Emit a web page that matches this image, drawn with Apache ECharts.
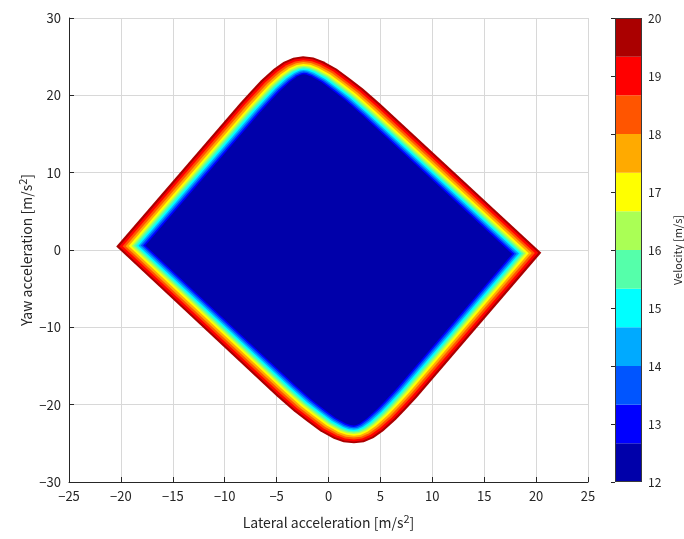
<!DOCTYPE html>
<html>
<head>
<meta charset="utf-8">
<script src="https://cdn.jsdelivr.net/npm/echarts@6/dist/echarts.min.js"></script>
<style>
  html, body { margin: 0; background: #fff; }
  #chart { width: 684px; height: 539px; }
</style>
</head>
<body>
<div id="chart"></div>
<script>
// outer edge of the filled area (the 20 m/s contour) [x, y]
const outline = [
  [-20.45, 0.45], [-8.5, 19.05], [-7.4, 20.65], [-6.5, 21.95], [-5.3, 23.4],
  [-4.35, 24.3], [-3.4, 24.85], [-2.45, 25.05], [-1.45, 24.9], [-0.5, 24.4],
  [0.8, 23.45], [2.1, 22.15], [3.35, 20.85], [5.0, 18.9],
  [20.5, -0.35], [8.5, -19.1], [7.4, -20.7], [6.5, -21.95], [5.3, -23.4],
  [4.35, -24.3], [3.4, -24.85], [2.45, -25.0], [1.45, -24.85], [0.5, -24.4],
  [-0.8, -23.45], [-2.1, -22.15], [-3.35, -20.85], [-5.0, -18.9]
];

// contour levels (m/s) and how far inside the outer edge each one lies (m/s^2)
const contourLevels = [20, 19.33, 18.67, 18, 17.33, 16.67, 16, 15.33, 14.67, 14, 13.33, 12.67];
const contourDepth = [0, 0.24, 0.5, 0.74, 0.98, 1.2, 1.38, 1.56, 1.74, 1.92, 2.1, 2.28];

// colour bar: band edges and jet(12) colours, lowest band first
const barEdges = [12, 12.67, 13.33, 14, 14.67, 15.33, 16, 16.67, 17.33, 18, 18.67, 19.33, 20];
const jetColors = ['#0000aa', '#0000ff', '#0055ff', '#00aaff', '#00ffff', '#55ffaa',
                   '#aaff55', '#ffff00', '#ffaa00', '#ff5500', '#ff0000', '#aa0000'];

const font = '"Noto Sans CJK JP", "Noto Sans", sans-serif';
const ink = '#262626';
const minus = v => String(v).replace('-', '\u2212');

// move every edge of the ring inwards by d (data units), corners where they meet
function insetRing(ring, d) {
  const n = ring.length;
  let area = 0;
  for (let i = 0; i < n; i++) {
    const a = ring[i], b = ring[(i + 1) % n];
    area += a[0] * b[1] - b[0] * a[1];
  }
  const s = area > 0 ? 1 : -1;
  const lines = [];
  for (let i = 0; i < n; i++) {
    const a = ring[i], b = ring[(i + 1) % n];
    let ux = b[0] - a[0], uy = b[1] - a[1];
    const len = Math.hypot(ux, uy);
    ux /= len; uy /= len;
    const nx = -uy * s, ny = ux * s;
    lines.push({ px: a[0] + nx * d, py: a[1] + ny * d, ux, uy, nx, ny });
  }
  const out = [];
  for (let i = 0; i < n; i++) {
    const l1 = lines[(i - 1 + n) % n], l2 = lines[i];
    const den = l1.ux * l2.uy - l1.uy * l2.ux;
    if (Math.abs(den) < 1e-9) {
      out.push([ring[i][0] + l2.nx * d, ring[i][1] + l2.ny * d]);
      continue;
    }
    const t = ((l2.px - l1.px) * l2.uy - (l2.py - l1.py) * l2.ux) / den;
    out.push([l1.px + l1.ux * t, l1.py + l1.uy * t]);
  }
  return out;
}

const nameRich = {
  t: { fontSize: 14, color: ink, fontFamily: font, lineHeight: 20 },
  s: { fontSize: 11, color: ink, fontFamily: font, verticalAlign: 'top', lineHeight: 20 }
};

const chart = echarts.init(document.getElementById('chart'));

const option = {
  animation: false,
  backgroundColor: '#fff',
  grid: [
    { left: 69, top: 18, width: 519, height: 464, show: false },
    { left: 615, top: 18, width: 30, height: 464, show: false }
  ],
  xAxis: [
    {
      gridIndex: 0, type: 'value', min: -25, max: 25, interval: 5,
      name: '{t|Lateral acceleration [m/s}{s|2}{t|]}',
      nameLocation: 'middle', nameGap: 31, nameMoveOverlap: false,
      nameTextStyle: { rich: nameRich },
      axisLine: { show: true, onZero: false, lineStyle: { color: ink, width: 1 } },
      axisTick: { show: true, inside: true, length: 5, lineStyle: { color: ink } },
      axisLabel: { color: ink, fontSize: 13, fontFamily: font, margin: 8, formatter: minus },
      splitLine: { show: true, lineStyle: { color: '#d8d8d8', width: 1 } }
    },
    { gridIndex: 1, type: 'value', min: 0, max: 1, show: false }
  ],
  yAxis: [
    {
      gridIndex: 0, type: 'value', min: -30, max: 30, interval: 10,
      name: '{t|Yaw acceleration [m/s}{s|2}{t|]}',
      nameLocation: 'middle', nameGap: 32, nameRotate: 90, nameMoveOverlap: false,
      nameTextStyle: { rich: nameRich },
      axisLine: { show: true, onZero: false, lineStyle: { color: ink, width: 1 } },
      axisTick: { show: true, inside: true, length: 5, lineStyle: { color: ink } },
      axisLabel: { color: ink, fontSize: 13, fontFamily: font, margin: 8, formatter: minus },
      splitLine: { show: true, lineStyle: { color: '#d8d8d8', width: 1 } }
    },
    {
      gridIndex: 1, type: 'value', min: 12, max: 20, interval: 1, position: 'right',
      name: 'Velocity [m/s]', nameLocation: 'middle', nameGap: 30, nameRotate: 90,
      nameTextStyle: { color: ink, fontSize: 11, fontFamily: font },
      axisLine: { show: false },
      axisTick: { show: true, inside: true, length: 4, lineStyle: { color: ink } },
      axisLabel: { color: ink, fontSize: 12, fontFamily: font, margin: 6 },
      splitLine: { show: false }
    }
  ],
  series: [
    {
      type: 'custom',
      xAxisIndex: 0, yAxisIndex: 0,
      silent: true,
      data: contourLevels.map((lv, i) => [lv, contourDepth[i]]),
      renderItem: (params, api) => {
        const i = params.dataIndex;
        const ring = insetRing(outline, contourDepth[i]);
        return {
          type: 'polygon',
          shape: { points: ring.map(p => api.coord(p)) },
          style: { fill: jetColors[jetColors.length - 1 - i] }
        };
      }
    },
    {
      type: 'custom',
      xAxisIndex: 1, yAxisIndex: 1,
      silent: true,
      data: jetColors.map((c, i) => [barEdges[i], barEdges[i + 1]]),
      renderItem: (params, api) => {
        const i = params.dataIndex;
        const lo = api.coord([0, barEdges[i]]);
        const hi = api.coord([1, barEdges[i + 1]]);
        return {
          type: 'rect',
          shape: { x: lo[0], y: hi[1], width: hi[0] - lo[0], height: lo[1] - hi[1] },
          style: { fill: jetColors[i] }
        };
      }
    },
    {
      type: 'custom',
      xAxisIndex: 1, yAxisIndex: 1,
      silent: true, z: 5,
      data: [[0, 12]],
      renderItem: (params, api) => {
        const lo = api.coord([0, barEdges[0]]);
        const hi = api.coord([1, barEdges[barEdges.length - 1]]);
        return {
          type: 'rect',
          shape: { x: lo[0] + 0.5, y: hi[1] + 0.5, width: hi[0] - lo[0] - 1, height: lo[1] - hi[1] - 1 },
          style: { fill: 'none', stroke: '#3a3a3a', lineWidth: 1 }
        };
      }
    }
  ]
};

chart.setOption(option);
</script>
</body>
</html>
